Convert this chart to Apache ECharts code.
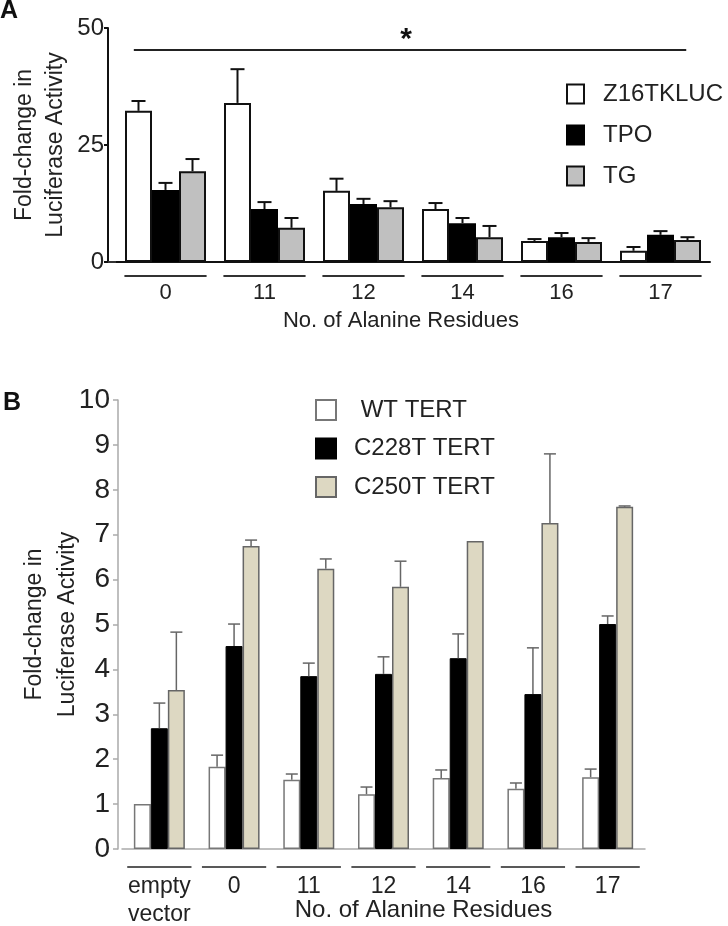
<!DOCTYPE html>
<html>
<head>
<meta charset="utf-8">
<script src="https://cdn.jsdelivr.net/npm/echarts@6/dist/echarts.min.js"></script>
<style>
  html, body { margin: 0; padding: 0; background: #fff; }
  #chart { width: 728px; height: 926px; }
</style>
</head>
<body>
<div id="chart"></div>
<script>
// ---------- Panel A data ----------
const catsA = ['0', '11', '12', '14', '16', '17'];
const namesA = ['Z16TKLUC', 'TPO', 'TG'];
const z16 = [32.3, 34.0, 15.2, 11.3, 4.5, 2.4];
const z16Err = [2.1, 7.2, 2.6, 1.3, 0.4, 0.8];
const tpo = [15.4, 11.3, 12.4, 8.3, 5.3, 5.8];
const tpoErr = [1.5, 1.5, 1.1, 1.1, 0.9, 0.8];
const tg = [19.4, 7.3, 11.7, 5.3, 4.3, 4.7];
const tgErr = [2.6, 2.1, 1.3, 2.4, 0.8, 0.6];
const ticksA = [0, 25, 50];
const sigFrom = 0, sigTo = 5, sigLevel = 45.3, sigText = '*';

// ---------- Panel B data ----------
const catsB = ['empty\nvector', '0', '11', '12', '14', '16', '17'];
const namesB = ['WT TERT', 'C228T TERT', 'C250T TERT'];
const wt = [1.0, 1.83, 1.54, 1.22, 1.58, 1.34, 1.6];
const wtErr = [0, 0.26, 0.13, 0.16, 0.18, 0.13, 0.18];
const c228 = [2.69, 4.52, 3.85, 3.9, 4.25, 3.45, 5.01];
const c228Err = [0.56, 0.49, 0.29, 0.38, 0.54, 1.03, 0.18];
const c250 = [3.54, 6.75, 6.24, 5.84, 6.86, 7.26, 7.62];
const c250Err = [1.29, 0.13, 0.22, 0.57, 0, 1.54, 0.02];
const ticksB = [0, 1, 2, 3, 4, 5, 6, 7, 8, 9, 10];

const FONT = '"Liberation Sans", Arial, sans-serif';
const TXT = '#222';

const BW_A = 27, BW_B = 17;

function errSeries(name, vals, errs, k, bw, xi, color, lw, half) {
  return {
    type: 'custom', name: name + '_err', xAxisIndex: xi, yAxisIndex: xi,
    clip: false, z: 5, silent: true,
    data: vals.map((v, i) => [i, v, errs[i]]),
    encode: { x: 0, y: 1 },
    renderItem: function (params, api) {
      const i = api.value(0), m = api.value(1), e = api.value(2);
      if (!e) return null;
      const b = api.coord([i, m]);
      const t = api.coord([i, m + e]);
      const x = b[0] + (k - 1) * bw;
      const st = { stroke: color, lineWidth: lw };
      return { type: 'group', children: [
        { type: 'line', shape: { x1: x, y1: b[1], x2: x, y2: t[1] }, style: st },
        { type: 'line', shape: { x1: x - half, y1: t[1], x2: x + half, y2: t[1] }, style: st }
      ]};
    }
  };
}

function underlineSeries(cats, xi, frac, dy, color, lw, ext) {
  return {
    type: 'custom', xAxisIndex: xi, yAxisIndex: xi, clip: false, silent: true, z: 4,
    data: cats.map((c, i) => [i, 0]),
    encode: { x: 0, y: 1 },
    renderItem: function (params, api) {
      const i = api.value(0);
      const p = api.coord([i, 0]);
      const band = api.size([1, 0])[0];
      const st = { stroke: color, lineWidth: lw };
      const ch = [{ type: 'line', shape: { x1: p[0] - band * frac / 2, y1: p[1] + dy, x2: p[0] + band * frac / 2, y2: p[1] + dy }, style: st }];
      if (i === 0 && ext) {
        ch.push({ type: 'line', shape: { x1: p[0] - band / 2 - ext, y1: p[1], x2: p[0] - band / 2, y2: p[1] }, style: st });
      }
      return { type: 'group', children: ch };
    }
  };
}

const chart = echarts.init(document.getElementById('chart'), null, { renderer: 'canvas' });

const option = {
  animation: false,
  textStyle: { fontFamily: FONT },
  graphic: [
    { type: 'text', left: 0, top: -1, style: { text: 'A', font: 'bold 25px ' + FONT, fill: '#111' } },
    { type: 'text', left: 3, top: 391, style: { text: 'B', font: 'bold 25px ' + FONT, fill: '#111' } }
  ],
  grid: [
    { left: 116, top: 28, width: 594, height: 234, outerBoundsMode: 'none', containLabel: false },
    { left: 122, top: 400, width: 523, height: 449, outerBoundsMode: 'none', containLabel: false }
  ],
  legend: [
    {
      data: namesA, left: 566, top: 82, orient: 'vertical', padding: 0,
      itemWidth: 17, itemHeight: 19, itemGap: 17, icon: 'rect', selectedMode: false,
      textStyle: { fontSize: 24, lineHeight: 19, color: TXT, fontFamily: FONT, padding: [0, 0, 0, 14] }
    },
    {
      data: namesB, left: 315, top: 398, orient: 'vertical', padding: 0,
      itemWidth: 20, itemHeight: 20, itemGap: 14.5, icon: 'rect', selectedMode: false,
      formatter: n => (n === 'WT TERT' ? ' ' + n : n),
      textStyle: { fontSize: 24, lineHeight: 20, color: TXT, fontFamily: FONT, padding: [0, 0, 0, 13] }
    }
  ],
  xAxis: [
    {
      type: 'category', gridIndex: 0, data: catsA,
      axisLine: { lineStyle: { color: '#111', width: 2 } },
      axisTick: { show: false },
      axisLabel: { fontSize: 22, color: TXT, margin: 20, fontFamily: FONT },
      name: 'No. of Alanine Residues', nameLocation: 'middle', nameGap: 48, nameMoveOverlap: false,
      nameTextStyle: { fontSize: 22, color: TXT, fontFamily: FONT, padding: [0, 24, 0, 0] }
    },
    {
      type: 'category', gridIndex: 1, data: catsB,
      axisLine: { lineStyle: { color: '#aaa', width: 1.5 } },
      axisTick: { show: false },
      axisLabel: { fontSize: 23, lineHeight: 28, color: TXT, margin: 24, fontFamily: FONT, interval: 0 },
      name: 'No. of Alanine Residues', nameLocation: 'middle', nameGap: 49, nameMoveOverlap: false,
      nameTextStyle: { fontSize: 24, color: TXT, fontFamily: FONT, padding: [0, 0, 0, 80] }
    }
  ],
  yAxis: [
    {
      type: 'value', gridIndex: 0, min: ticksA[0], max: ticksA[ticksA.length - 1], interval: ticksA[1] - ticksA[0],
      offset: 8,
      axisLine: { show: true, lineStyle: { color: '#111', width: 2 } },
      axisTick: { show: true, length: 4, lineStyle: { color: '#111', width: 2 } },
      splitLine: { show: false },
      axisLabel: { fontSize: 24, color: TXT, margin: 4, fontFamily: FONT },
      name: 'Fold-change in\nLuciferase Activity', nameLocation: 'middle', nameRotate: 90, nameGap: 37, nameMoveOverlap: false,
      nameTextStyle: { fontSize: 23, lineHeight: 31, color: TXT, fontFamily: FONT }
    },
    {
      type: 'value', gridIndex: 1, min: ticksB[0], max: ticksB[ticksB.length - 1], interval: ticksB[1] - ticksB[0],
      offset: 4,
      axisLine: { show: true, lineStyle: { color: '#aaa', width: 1.5 } },
      axisTick: { show: true, length: 5, lineStyle: { color: '#aaa', width: 1.5 } },
      splitLine: { show: false },
      axisLabel: { fontSize: 28, color: TXT, margin: 8, fontFamily: FONT },
      name: 'Fold-change in\nLuciferase Activity', nameLocation: 'middle', nameRotate: 90, nameGap: 34, nameMoveOverlap: false,
      nameTextStyle: { fontSize: 23, lineHeight: 33, color: TXT, fontFamily: FONT }
    }
  ],
  series: [
    { type: 'bar', name: namesA[0], xAxisIndex: 0, yAxisIndex: 0, data: z16, barWidth: BW_A, barGap: '0%',
      itemStyle: { color: '#ffffff', borderColor: '#111', borderWidth: 2 } },
    { type: 'bar', name: namesA[1], xAxisIndex: 0, yAxisIndex: 0, data: tpo, barWidth: BW_A, barGap: '0%',
      itemStyle: { color: '#000000', borderColor: '#000', borderWidth: 2 } },
    { type: 'bar', name: namesA[2], xAxisIndex: 0, yAxisIndex: 0, data: tg, barWidth: BW_A, barGap: '0%',
      itemStyle: { color: '#c0c0c0', borderColor: '#111', borderWidth: 2 } },
    errSeries(namesA[0], z16, z16Err, 0, BW_A, 0, '#111', 2, 7),
    errSeries(namesA[1], tpo, tpoErr, 1, BW_A, 0, '#111', 2, 7),
    errSeries(namesA[2], tg, tgErr, 2, BW_A, 0, '#111', 2, 7),
    underlineSeries(catsA, 0, 0.83, 14, '#333', 2, 8),
    {
      type: 'custom', xAxisIndex: 0, yAxisIndex: 0, clip: false, silent: true,
      data: [[sigFrom, sigTo, sigLevel]],
      encode: { x: [0, 1], y: 2 },
      renderItem: function (params, api) {
        const a = api.coord([api.value(0), api.value(2)]);
        const b = api.coord([api.value(1), api.value(2)]);
        const band = api.size([1, 0])[0];
        const x1 = a[0] - 0.32 * band, x2 = b[0] + 0.26 * band;
        return { type: 'group', children: [
          { type: 'line', shape: { x1: x1, y1: a[1], x2: x2, y2: a[1] }, style: { stroke: '#222', lineWidth: 2 } },
          { type: 'text', style: { text: sigText, x: (x1 + x2) / 2 - 4, y: a[1] - 10, align: 'center', verticalAlign: 'middle',
            font: 'bold 30px ' + FONT, fill: '#111' } }
        ]};
      }
    },
    { type: 'bar', name: namesB[0], xAxisIndex: 1, yAxisIndex: 1, data: wt, barWidth: BW_B, barGap: '0%',
      itemStyle: { color: '#ffffff', borderColor: '#777', borderWidth: 1.5 } },
    { type: 'bar', name: namesB[1], xAxisIndex: 1, yAxisIndex: 1, data: c228, barWidth: BW_B, barGap: '0%',
      itemStyle: { color: '#000000', borderColor: '#000', borderWidth: 1 } },
    { type: 'bar', name: namesB[2], xAxisIndex: 1, yAxisIndex: 1, data: c250, barWidth: BW_B, barGap: '0%',
      itemStyle: { color: '#ddd8c2', borderColor: '#666', borderWidth: 1.5 } },
    errSeries(namesB[0], wt, wtErr, 0, BW_B, 1, '#666', 1.5, 6),
    errSeries(namesB[1], c228, c228Err, 1, BW_B, 1, '#666', 1.5, 6),
    errSeries(namesB[2], c250, c250Err, 2, BW_B, 1, '#666', 1.5, 6),
    underlineSeries(catsB, 1, 0.86, 18, '#222', 1.5, 0)
  ]
};
chart.setOption(option);
</script>
</body>
</html>
